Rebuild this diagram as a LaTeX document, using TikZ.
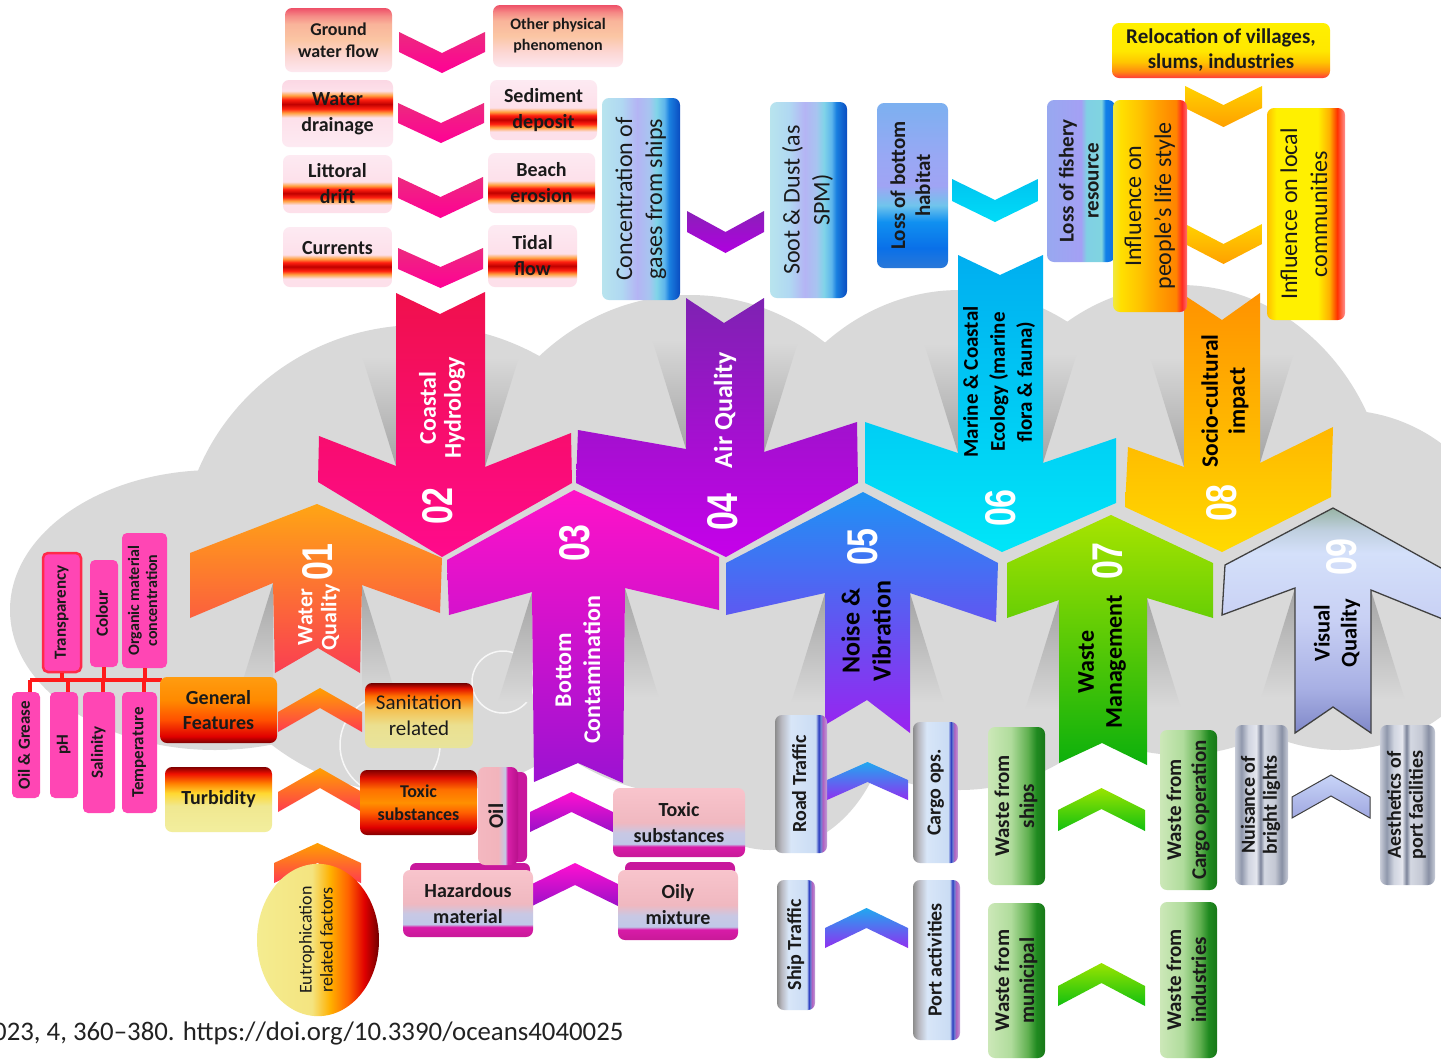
\documentclass[tikz,border=0pt]{standalone}
\usepackage{fontspec}
\setmainfont{Carlito}
\newfontfamily\numfont{Liberation Sans}
\usepackage{graphicx}
\usetikzlibrary{shapes.geometric}
\newcommand\dc[1]{\definecolor{c#1}{HTML}{#1}}
\dc{D9D9D9}\dc{1A1A1A}\dc{222222}
\dc{FDE8F0}\dc{FCD6D2}\dc{FBC6A4}\dc{F9B49A}\dc{F58A86}\dc{EE5068}
\dc{FDEAF2}\dc{FDE0EA}\dc{FFA040}\dc{FF2010}\dc{C00000}\dc{FBD8E4}
\dc{B8E4EE}\dc{B0D8F2}\dc{B4B4F4}\dc{A8C4F0}\dc{80D4E8}\dc{5CB4EC}\dc{1A80E0}\dc{0A4CC0}
\dc{2A78D8}\dc{0A70E8}\dc{1090F0}\dc{70C4EC}\dc{A0A4F4}\dc{98A8F4}\dc{7CB0F0}
\dc{98A8F0}\dc{A4A0F4}\dc{80D0E4}\dc{80D4E0}\dc{1080E8}\dc{1070E0}
\dc{FF3A3A}\dc{FF8A10}\dc{FFC800}\dc{FFE800}\dc{FFF000}
\dc{F0E840}\dc{FFE000}\dc{FFC400}\dc{FFA000}\dc{FF8400}\dc{FF2A20}\dc{FF7070}
\dc{FFC000}\dc{FFB000}\dc{FF3000}\dc{FF9090}
\dc{7A0000}\dc{E00000}\dc{FF5000}\dc{FF8A00}\dc{FF9C10}
\dc{E8E49C}\dc{EBE090}\dc{F4C050}\dc{FF7000}\dc{E01000}\dc{700000}
\dc{F2EE9E}\dc{F0E890}\dc{FFD830}\dc{FF8000}\dc{F01000}\dc{800000}
\dc{FF6000}\dc{FF9000}
\dc{F4EC90}\dc{F4E480}
\dc{C81A98}\dc{D81BA8}\dc{C0C8E8}\dc{C8C8E4}\dc{F0B8C0}\dc{F8C4CC}
\dc{F4B8C0}\dc{F2B4BC}\dc{C4C8E4}\dc{D820A8}\dc{B8108C}
\dc{8C8C8C}\dc{B8B8C0}\dc{D8E6F8}\dc{CADCF4}\dc{2A3CC0}\dc{7080D0}\dc{B060C0}\dc{C0A0D8}
\dc{CCE8B8}\dc{B0DC9C}\dc{60B050}\dc{208A20}\dc{187818}
\dc{C8CCD8}\dc{9098AC}\dc{D0D4E0}\dc{E4E6EE}\dc{7C849A}\dc{D4D8E2}\dc{C4C8D4}\dc{8890A4}
\dc{8088C8}\dc{A8B0E4}\dc{C8D0F4}\dc{D4E0FA}\dc{C0D0E0}\dc{98B4A4}
\dc{FFA514}\dc{FA3E52}\dc{F0104C}\dc{FF0A8C}\dc{FF12C8}\dc{9C12D2}\dc{7E22B2}\dc{C600EA}
\dc{1E92F4}\dc{9A22F0}\dc{00AEF0}\dc{00E6F8}\dc{A8E400}\dc{0CB00C}\dc{FF9200}\dc{FFDA00}
\dc{EC2A7E}\dc{FF0096}\dc{8A20B8}\dc{B000E0}\dc{00C4F0}\dc{00DCF8}\dc{FFD200}
\dc{FF3A50}\dc{FF10D0}\dc{9A10C8}\dc{20A8F0}\dc{9030F0}\dc{9AE400}\dc{10C010}
\dc{C8D4F8}\dc{A0A8E0}\dc{FF46B4}\dc{FF2A4A}\dc{FF1A1A}\dc{C8189C}\dc{A4A4A4}\dc{404040}

\pgfdeclareverticalshading{peachsh}{100bp}{color(0bp)=(cFDE8F0); color(25bp)=(cFDE8F0); color(37.5bp)=(cFCD6D2); color(50bp)=(cFBC6A4); color(62.5bp)=(cF9B49A); color(69bp)=(cF58A86); color(75bp)=(cEE5068); color(100bp)=(cEE5068)}
\pgfdeclareverticalshading{bandhi}{100bp}{color(0bp)=(cFDEAF2); color(25bp)=(cFDEAF2); color(47bp)=(cFDE0EA); color(50.5bp)=(cFFA040); color(53.5bp)=(cFF2010); color(57bp)=(cC00000); color(60.5bp)=(cFF2010); color(63.5bp)=(cFFA040); color(67bp)=(cFDE0EA); color(75bp)=(cFBD8E4); color(100bp)=(cFBD8E4)}
\pgfdeclareverticalshading{bandlo}{100bp}{color(0bp)=(cFDE0EA); color(25bp)=(cFDE0EA); color(32bp)=(cFDE0EA); color(35.5bp)=(cFFA040); color(38.5bp)=(cFF2010); color(42bp)=(cC00000); color(45.5bp)=(cFF2010); color(48.5bp)=(cFFA040); color(52bp)=(cFDE0EA); color(75bp)=(cFDEAF2); color(100bp)=(cFDEAF2)}
\pgfdeclarehorizontalshading{airsh}{100bp}{color(0bp)=(cB8E4EE); color(25bp)=(cB8E4EE); color(37.5bp)=(cB0D8F2); color(47.5bp)=(cB4B4F4); color(55bp)=(cA8C4F0); color(60bp)=(c80D4E8); color(65bp)=(c5CB4EC); color(68bp)=(c1A80E0); color(75bp)=(c0A4CC0); color(100bp)=(c0A4CC0)}
\pgfdeclareverticalshading{lbsh}{100bp}{color(0bp)=(c2A78D8); color(25bp)=(c2A78D8); color(31bp)=(c0A70E8); color(39bp)=(c1090F0); color(44bp)=(c70C4EC); color(50bp)=(cA0A4F4); color(59bp)=(c98A8F4); color(75bp)=(c7CB0F0); color(100bp)=(c7CB0F0)}
\pgfdeclarehorizontalshading{lfsh}{100bp}{color(0bp)=(c98A8F0); color(25bp)=(c98A8F0); color(50bp)=(cA4A0F4); color(54bp)=(c80D0E4); color(65bp)=(c80D4E0); color(68bp)=(c1080E8); color(75bp)=(c1070E0); color(100bp)=(c1070E0)}
\pgfdeclareverticalshading{relsh}{100bp}{color(0bp)=(cFF3A3A); color(25bp)=(cFF3A3A); color(31bp)=(cFF8A10); color(40bp)=(cFFC800); color(50bp)=(cFFE800); color(75bp)=(cFFF000); color(100bp)=(cFFF000)}
\pgfdeclarehorizontalshading{iplsh}{100bp}{color(0bp)=(cF0E840); color(25bp)=(cF0E840); color(30bp)=(cFFE000); color(42.5bp)=(cFFC400); color(55bp)=(cFFA000); color(67.5bp)=(cFF8400); color(71.5bp)=(cFF2A20); color(75bp)=(cFF7070); color(100bp)=(cFF7070)}
\pgfdeclarehorizontalshading{ilcsh}{100bp}{color(0bp)=(cFFC000); color(25bp)=(cFFC000); color(31bp)=(cFFF000); color(57.5bp)=(cFFF000); color(65bp)=(cFFB000); color(70bp)=(cFF3000); color(75bp)=(cFF9090); color(100bp)=(cFF9090)}
\pgfdeclareverticalshading{gfsh}{100bp}{color(0bp)=(c7A0000); color(25bp)=(c7A0000); color(30bp)=(cE00000); color(42.5bp)=(cFF5000); color(57.5bp)=(cFF8A00); color(75bp)=(cFF9C10); color(100bp)=(cFF9C10)}
\pgfdeclareverticalshading{srsh}{100bp}{color(0bp)=(cE8E49C); color(25bp)=(cE8E49C); color(42.5bp)=(cEBE090); color(55bp)=(cF4C050); color(65bp)=(cFF7000); color(71bp)=(cE01000); color(75bp)=(c700000); color(100bp)=(c700000)}
\pgfdeclareverticalshading{tush}{100bp}{color(0bp)=(cF2EE9E); color(25bp)=(cF2EE9E); color(45bp)=(cF0E890); color(55bp)=(cFFD830); color(62.5bp)=(cFF8000); color(70bp)=(cF01000); color(75bp)=(c800000); color(100bp)=(c800000)}
\pgfdeclareverticalshading{tssh}{100bp}{color(0bp)=(c800000); color(25bp)=(c800000); color(31bp)=(cE00000); color(42.5bp)=(cFF6000); color(50bp)=(cFF9000); color(60bp)=(cFF7000); color(69bp)=(cE01000); color(75bp)=(c800000); color(100bp)=(c800000)}
\pgfdeclarehorizontalshading{eush}{100bp}{color(0bp)=(cF4EC90); color(25bp)=(cF4EC90); color(47.5bp)=(cF4E480); color(55bp)=(cFFB000); color(62.5bp)=(cFF6000); color(69bp)=(cE00000); color(75bp)=(c700000); color(100bp)=(c700000)}
\pgfdeclareverticalshading{bcsh}{100bp}{color(0bp)=(cC81A98); color(25bp)=(cC81A98); color(32.5bp)=(cD81BA8); color(34.5bp)=(cC0C8E8); color(42.5bp)=(cC8C8E4); color(50bp)=(cF0B8C0); color(75bp)=(cF8C4CC); color(100bp)=(cF8C4CC)}
\pgfdeclarehorizontalshading{oilsh}{100bp}{color(0bp)=(cF4B8C0); color(25bp)=(cF4B8C0); color(50bp)=(cF2B4BC); color(59bp)=(cC4C8E4); color(62bp)=(cD820A8); color(75bp)=(cB8108C); color(100bp)=(cB8108C)}
\pgfdeclarehorizontalshading{noisesh}{100bp}{color(0bp)=(c8C8C8C); color(25bp)=(c8C8C8C); color(31bp)=(cB8B8C0); color(40bp)=(cD8E6F8); color(64bp)=(cCADCF4); color(67bp)=(c2A3CC0); color(69bp)=(c7080D0); color(71bp)=(cB060C0); color(75bp)=(cC0A0D8); color(100bp)=(cC0A0D8)}
\pgfdeclarehorizontalshading{wastesh}{100bp}{color(0bp)=(cCCE8B8); color(25bp)=(cCCE8B8); color(45bp)=(cB0DC9C); color(60bp)=(c60B050); color(67.5bp)=(c208A20); color(75bp)=(c187818); color(100bp)=(c187818)}
\pgfdeclarehorizontalshading{vissh}{100bp}{color(0bp)=(cC8CCD8); color(25bp)=(cC8CCD8); color(31bp)=(c9098AC); color(37.5bp)=(cD0D4E0); color(45bp)=(cE4E6EE); color(49bp)=(c7C849A); color(52.5bp)=(cD4D8E2); color(62.5bp)=(cC4C8D4); color(69bp)=(c8890A4); color(75bp)=(cC8CCD8); color(100bp)=(cC8CCD8)}
\pgfdeclareverticalshading{a09sh}{100bp}{color(0bp)=(c8088C8); color(25bp)=(c8088C8); color(35bp)=(cA8B0E4); color(50bp)=(cC8D0F4); color(65bp)=(cD4E0FA); color(70bp)=(cC0D0E0); color(75bp)=(c98B4A4); color(100bp)=(c98B4A4)}

\newcommand\fsz[2]{\fontsize{#1pt}{#2pt}\selectfont}
\newcommand\vtext[1]{\rotatebox{90}{\begin{tabular}{@{}c@{}}#1\end{tabular}}}
% down chevron: style, x1, x2, ytop, depth, thick
\newcommand\dchev[6]{\path[#1] (#2,#4) -- ({(#2+#3)/2},{#4+#5}) -- (#3,#4) -- (#3,{#4+#6}) -- ({(#2+#3)/2},{#4+#5+#6}) -- (#2,{#4+#6}) -- cycle;}
% up chevron: style, x1, x2, yapex, depth, thick
\newcommand\uchev[6]{\path[#1] (#2,{#4+#5}) -- ({(#2+#3)/2},#4) -- (#3,{#4+#5}) -- (#3,{#4+#5+#6}) -- ({(#2+#3)/2},{#4+#6}) -- (#2,{#4+#5+#6}) -- cycle;}
% soft shadow cones beside a shaft: join x,y ; far x ; far y
\newcommand\coneup[4]{\shade[top color=cD9D9D9, bottom color=cA4A4A4] (#1,#2) -- (#3,#4) -- (#1,#4) -- cycle;}
\newcommand\conedn[4]{\shade[top color=cA4A4A4, bottom color=cD9D9D9] (#1,#2) -- (#3,#4) -- (#1,#4) -- cycle;}

\begin{document}
\begin{tikzpicture}[x=1pt,y=-1pt,
  sh/.style={shade, shading=#1},
  box/.style={rectangle, rounded corners=7pt, inner sep=0pt, align=center, text=c1A1A1A, font=\bfseries\fsz{20}{26}},
  sz/.style 2 args={minimum width=#1pt, minimum height=#2pt},
  pinkbox/.style={rectangle, rounded corners=5pt, inner sep=0pt, fill=cFF46B4, text=c1A1A1A, font=\bfseries\fsz{17}{19}},
  redln/.style={draw=cFF1A1A, line width=4pt},
  numlbl/.style={rotate=90, text=white, font=\numfont\bfseries\fsz{43}{43}, inner sep=0pt},
  mlbl/.style={rotate=90, align=center, inner sep=0pt, font=\bfseries\fsz{23}{27}},
  ring/.style={draw=white, line width=1.5pt, opacity=0.8}]
\useasboundingbox (0,0) rectangle (1441,1061);
\clip (0,0) rectangle (1441,1061);
\fill[white] (0,0) rectangle (1441,1061);

% ---------- cloud ----------
\fill[cD9D9D9] (215,610) ellipse [x radius=205, y radius=140];
\fill[cD9D9D9] (420,560) ellipse [x radius=240, y radius=235];
\fill[cD9D9D9] (690,545) ellipse [x radius=230, y radius=250];
\fill[cD9D9D9] (770,700) ellipse [x radius=120, y radius=150];
\fill[cD9D9D9] (960,540) ellipse [x radius=220, y radius=250];
\fill[cD9D9D9] (1180,520) ellipse [x radius=210, y radius=235];
\fill[cD9D9D9] (1340,580) ellipse [x radius=170, y radius=170];
\draw[ring] (503,682) circle (31);
\draw[ring] (390,745) circle (50);

% ---------- shadow cones ----------
\coneup{396}{466}{362}{356}\coneup{485}{467}{519}{357}
\coneup{686}{449}{652}{339}\coneup{764}{452}{798}{342}
\coneup{958}{453}{924}{343}\coneup{1043}{463}{1077}{353}
\coneup{1184}{467}{1150}{357}\coneup{1260}{463}{1294}{353}
\conedn{273}{583}{239}{693}\conedn{362}{585}{396}{695}
\conedn{532}{592}{498}{702}\conedn{625}{588}{659}{698}
\conedn{825}{593}{791}{703}\conedn{910}{593}{944}{703}
\conedn{1059}{600}{1025}{710}\conedn{1147}{598}{1181}{708}
\conedn{1295}{588}{1261}{698}\conedn{1371}{590}{1405}{700}

% ---------- down arrows ----------
\path[shade, top color=cF0104C, bottom color=cFF0A8C] (396,293) -- (440,314) -- (485,292) -- (485,467) -- (571,433) -- (572,483) -- (442,557) -- (318,482) -- (319,436) -- (396,466) -- cycle;
\path[shade, top color=c7E22B2, bottom color=cC600EA] (686,298) -- (724,323) -- (764,298) -- (764,452) -- (857,422) -- (858,483) -- (726,557) -- (576,483) -- (578,430) -- (686,449) -- cycle;
\path[shade, top color=c00AEF0, bottom color=c00E6F8] (958,255) -- (1000,275) -- (1043,255) -- (1043,463) -- (1116,438) -- (1116,503) -- (1002,552) -- (865,483) -- (865,422) -- (958,453) -- cycle;
\path[shade, top color=cFF9200, bottom color=cFFDA00] (1184,295) -- (1222,320) -- (1260,293) -- (1260,463) -- (1333,427) -- (1331,497) -- (1222,552) -- (1125,507) -- (1128,447) -- (1184,467) -- cycle;

% ---------- up arrows ----------
\path[shade, top color=cFFA514, bottom color=cFA3E52] (317,504) -- (442,558) -- (440,613) -- (362,585) -- (360,673) -- (318,648) -- (275,673) -- (273,583) -- (190,618) -- (190,553) -- cycle;
\path[shade, top color=cFF12C8, bottom color=c9C12D2] (574,490) -- (719,557) -- (719,610) -- (625,588) -- (623,783) -- (578,763) -- (534,782) -- (532,592) -- (449,615) -- (447,560) -- cycle;
\path[shade, top color=c1E92F4, bottom color=c9A22F0] (863,492) -- (998,563) -- (996,622) -- (910,593) -- (910,733) -- (867,700) -- (825,725) -- (825,593) -- (726,615) -- (726,563) -- cycle;
\path[shade, top color=cA8E400, bottom color=c0CB00C] (1111,515) -- (1213,563) -- (1213,618) -- (1147,598) -- (1147,765) -- (1102,743) -- (1059,763) -- (1059,600) -- (1007,618) -- (1007,563) -- cycle;
\path[sh=a09sh, draw=c404040, line width=1.3pt] (1333,508) -- (1450,573) -- (1450,622) -- (1371,590) -- (1371,733) -- (1333,707) -- (1295,733) -- (1295,588) -- (1222,615) -- (1225,565) -- cycle;

% ---------- small chevrons ----------
\dchev{shade, top color=cEC2A7E, bottom color=cFF0096}{399}{485}{32}{21}{20}
\dchev{shade, top color=cEC2A7E, bottom color=cFF0096}{398}{484}{103}{20}{20}
\dchev{shade, top color=cEC2A7E, bottom color=cFF0096}{398}{483}{177}{20}{21}
\dchev{shade, top color=cEC2A7E, bottom color=cFF0096}{398}{483}{248}{19}{21}
\dchev{shade, top color=c8A20B8, bottom color=cB000E0}{687}{764}{211}{21}{21}
\dchev{shade, top color=c00C4F0, bottom color=c00DCF8}{952}{1038}{179}{21}{22}
\dchev{shade, top color=cFFD200, bottom color=cFFA000}{1185}{1262}{86}{19}{22}
\dchev{shade, top color=cFFD200, bottom color=cFFA000}{1185}{1262}{224}{20}{20}
\uchev{shade, top color=cFFA000, bottom color=cFF3A50}{278}{362}{688}{24}{20}
\uchev{shade, top color=cFFA000, bottom color=cFF3A50}{278}{362}{768}{24}{20}
\uchev{shade, top color=cFFA000, bottom color=cFF3A50}{274}{361}{843}{20}{20}
\uchev{shade, top color=cFF10D0, bottom color=c9A10C8}{530}{613}{792}{20}{20}
\uchev{shade, top color=cFF10D0, bottom color=c9A10C8}{530}{620}{863}{22}{22}
\uchev{shade, top color=c20A8F0, bottom color=c9030F0}{827}{908}{762}{18}{20}
\uchev{shade, top color=c20A8F0, bottom color=c9030F0}{825}{908}{908}{20}{20}
\uchev{shade, top color=c9AE400, bottom color=c10C010}{1058}{1145}{788}{22}{21}
\uchev{shade, top color=c9AE400, bottom color=c10C010}{1058}{1145}{963}{23}{20}
\uchev{shade, top color=cC8D4F8, bottom color=cA0A8E0, draw=c404040, line width=1pt}{1292}{1370}{775}{22}{21}

% ---------- 02 Coastal hydrology boxes ----------
\node[box, sz={107}{64}, sh=peachsh, font=\bfseries\fsz{18}{22}] (gw) at (338.5,40) {Ground\\water flow};
\node[box, sz={130}{62}, sh=peachsh, font=\bfseries\fsz{16}{21}] (op) at (558,36) {Other physical\\phenomenon};
\node[box, sz={111}{67}, sh=bandhi] (wd) at (337.5,113.5) {Water\\drainage};
\node[box, sz={107}{60}, sh=bandlo] (sd) at (543.5,110) {Sediment\\deposit};
\node[box, sz={109}{58}, sh=bandlo] (ld) at (337.5,184) {Littoral\\drift};
\node[box, sz={107}{60}, sh=bandlo] (be) at (541.5,183) {Beach\\erosion};
\node[box, sz={109}{60}, sh=bandlo] (cu) at (337.5,257) {\raisebox{3pt}[0pt][0pt]{Currents}};
\node[box, sz={89}{62}, sh=bandlo] (tf) at (532.5,256) {Tidal\\flow};

% ---------- 04 Air quality boxes ----------
\node[box, sz={78}{202}, sh=airsh, font=\fsz{24}{30}] (cg) at (641,199) {\vtext{Concentration of\\gases from ships}};
\node[box, sz={77}{196}, sh=airsh, font=\fsz{24}{30}] (sdu) at (808.5,200) {\vtext{Soot \& Dust (as\\SPM)}};

% ---------- 06 Marine boxes ----------
\node[box, sz={71}{165}, sh=lbsh, font=\bfseries\fsz{21}{25}] (lbh) at (912.5,185.5) {\vtext{Loss of bottom\\habitat}};
\node[box, sz={68}{162}, sh=lfsh, font=\bfseries\fsz{21}{25}] (lfr) at (1081,181) {\vtext{Loss of fishery\\resource}};

% ---------- 08 Socio boxes ----------
\node[box, sz={218}{55}, sh=relsh, font=\bfseries\fsz{21}{25}] (rel) at (1221,50.5) {Relocation of villages,\\slums, industries};
\node[box, sz={74}{212}, sh=iplsh, font=\fsz{24}{30}] (ipl) at (1150,206) {\vtext{Influence on\\people’s life style}};
\node[box, sz={78}{212}, sh=ilcsh, font=\fsz{24}{30}] (ilc) at (1306,214) {\vtext{Influence on local\\communities}};

% ---------- 01 Water quality ----------
\coordinate (bus) at (162,680);
\draw[redln] (30,680) -- (bus);
\node[pinkbox, draw=cFF2A4A, line width=2.5pt, sz={38}{119}] (tr) at (62,612.5) {\vtext{Transparency}};
\node[pinkbox, sz={28}{107}] (co) at (104,613.5) {\vtext{Colour}};
\node[pinkbox, sz={45}{135}, font=\bfseries\fsz{16}{18}] (om) at (144.5,600.5) {\vtext{Organic material\\concentration}};
\node[pinkbox, sz={28}{106}] (og) at (26,745) {\vtext{Oil \& Grease}};
\node[pinkbox, sz={28}{106}] (ph) at (64,745) {\vtext{pH}};
\node[pinkbox, sz={32}{121}] (sa) at (99,752.5) {\vtext{Salinity}};
\node[pinkbox, sz={35}{121}] (te) at (139.5,752.5) {\vtext{Temperature}};
\foreach \n in {tr,co,om} \draw[redln] (\n.south) -- (\n.south |- bus);
\foreach \n in {og,ph,sa,te} \draw[redln] ([xshift=4pt]\n.north) -- ([xshift=4pt]\n.north |- bus);
\node[box, sz={117}{66}, sh=gfsh, font=\bfseries\fsz{20}{25}] (gf) at (218.5,710) {General\\Features};
\node[box, sz={108}{65}, sh=srsh, font=\fsz{21}{26}] (sr) at (419,715.5) {Sanitation\\related};
\node[box, sz={107}{65}, sh=tush] (tu) at (218.5,799.5) {Turbidity};
\node[box, sz={117}{65}, sh=tssh, font=\bfseries\fsz{18}{23}] (tsw) at (418.5,802.5) {Toxic\\substances};
\node[ellipse, sh=eush, minimum width=122pt, minimum height=116pt, inner sep=0pt, text=c1A1A1A, font=\fsz{18}{21}] (eu) at (318,940) {\vtext{Eutrophication\\related factors}};

% ---------- 03 Bottom contamination ----------
\fill[cC8189C, rounded corners=6pt] (508,772) rectangle (527,862);
\fill[cC8189C, rounded corners=6pt] (410,863) rectangle (530,885);
\fill[cC8189C, rounded corners=6pt] (625,862) rectangle (735,885);
\node[box, sz={40}{98}, sh=oilsh, font=\bfseries\fsz{21}{26}] (oil) at (498,816) {\vtext{Oil}};
\node[box, sz={132}{69}, sh=bcsh] (tsb) at (679,822.5) {Toxic\\substances};
\node[box, sz={130}{67}, sh=bcsh] (hz) at (468,903.5) {Hazardous\\material};
\node[box, sz={120}{70}, sh=bcsh] (oily) at (678,905) {Oily\\mixture};

% ---------- 05 Noise ----------
\node[box, sz={52}{138}, sh=noisesh] (rt) at (801,784) {\vtext{Road Traffic}};
\node[box, sz={45}{141}, sh=noisesh] (cgo) at (935.5,792.5) {\vtext{Cargo ops.}};
\node[box, sz={38}{130}, sh=noisesh] (stf) at (796,945) {\vtext{Ship Traffic}};
\node[box, sz={47}{160}, sh=noisesh] (pac) at (936.5,960) {\vtext{Port activities}};

% ---------- 07 Waste ----------
\node[box, sz={57}{158}, sh=wastesh, font=\bfseries\fsz{21}{25}] (wsh) at (1016.5,806) {\vtext{Waste from\\ships}};
\node[box, sz={57}{160}, sh=wastesh, font=\bfseries\fsz{21}{25}] (wco) at (1188.5,810) {\vtext{Waste from\\Cargo operation}};
\node[box, sz={57}{155}, sh=wastesh, font=\bfseries\fsz{21}{25}] (wmu) at (1016.5,980.5) {\vtext{Waste from\\municipal}};
\node[box, sz={57}{156}, sh=wastesh, font=\bfseries\fsz{21}{25}] (win) at (1188.5,980) {\vtext{Waste from\\industries}};

% ---------- 09 Visual ----------
\node[box, sz={53}{160}, sh=vissh, font=\bfseries\fsz{20}{22}] (nbl) at (1261.5,805) {\vtext{Nuisance of\\bright lights}};
\node[box, sz={55}{160}, sh=vissh, font=\bfseries\fsz{20}{22}] (apf) at (1407.5,805) {\vtext{Aesthetics of\\port facilities}};

% ---------- arrow labels ----------
\node[numlbl] (n01) at (318,562) {\scalebox{0.79}[1]{01}};
\node[mlbl, text=white, font=\bfseries\fsz{22}{24}] (l01) at (319,617) {Water\\Quality};
\node[numlbl] (n02) at (438,506) {\scalebox{0.79}[1]{02}};
\node[mlbl, text=white, font=\bfseries\fsz{24}{25}] (l02) at (442,408) {Coastal\\Hydrology};
\node[numlbl] (n03) at (575,543) {\scalebox{0.79}[1]{03}};
\node[mlbl, text=white, font=\bfseries\fsz{24}{29}] (l03) at (578,670) {Bottom\\Contamination};
\node[numlbl] (n04) at (723,512) {\scalebox{0.79}[1]{04}};
\node[mlbl, text=white, font=\bfseries\fsz{26}{28}] (l04) at (725,410) {Air Quality};
\node[numlbl] (n05) at (863,547) {\scalebox{0.79}[1]{05}};
\node[mlbl, text=black, font=\bfseries\fsz{26}{31}] (l05) at (866,631) {Noise \&\\Vibration};
\node[numlbl] (n06) at (1001,508) {\scalebox{0.79}[1]{06}};
\node[mlbl, text=black, font=\bfseries\fsz{21}{27}] (l06) at (999,382) {Marine \& Coastal\\Ecology (marine\\flora \& fauna)};
\node[numlbl] (n07) at (1108,561) {\scalebox{0.79}[1]{07}};
\node[mlbl, text=black, font=\bfseries\fsz{24}{28}] (l07) at (1102,662) {Waste\\Management};
\node[numlbl] (n08) at (1222,503) {\scalebox{0.79}[1]{08}};
\node[mlbl, text=black, font=\bfseries\fsz{23.5}{27}] (l08) at (1225,401) {Socio-cultural\\impact};
\node[numlbl] (n09) at (1342,557) {\scalebox{0.79}[1]{09}};
\node[mlbl, text=black, font=\bfseries\fsz{22.5}{27}] (l09) at (1337,633) {Visual\\Quality};

% ---------- citation ----------
\node[anchor=base west, inner sep=0pt, text=c222222, font=\fsz{26.8}{30}] (cite) at (-7,1040) {023, 4, 360--380. https://doi.org/10.3390/oceans4040025};
\end{tikzpicture}
\end{document}
